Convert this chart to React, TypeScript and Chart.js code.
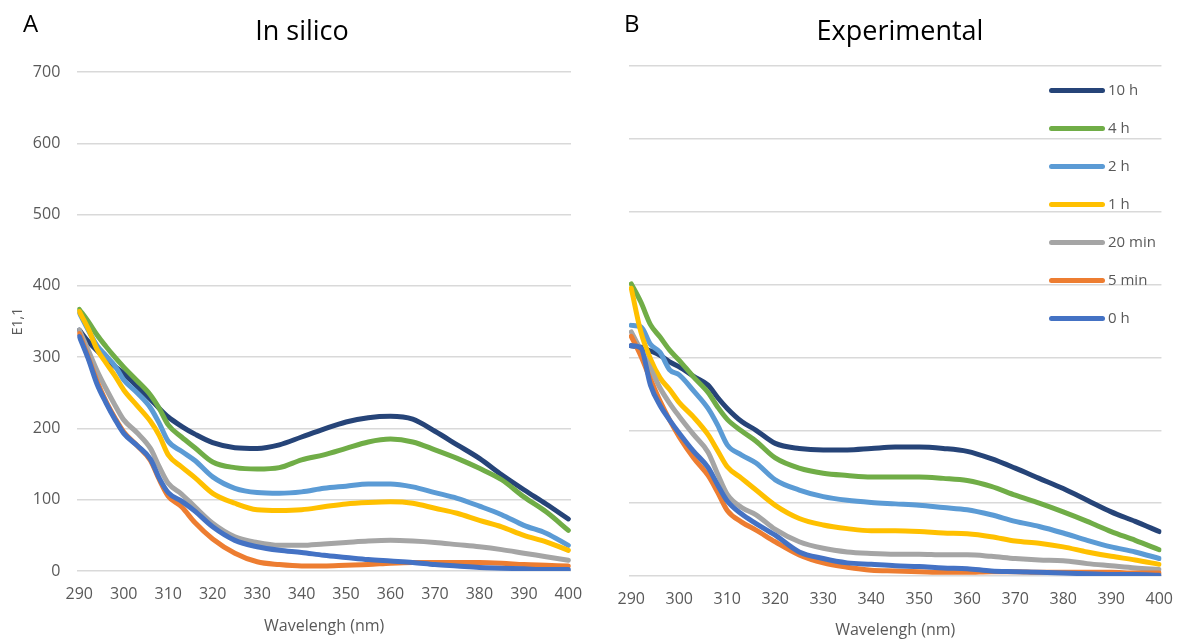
import React, { useEffect, useRef } from "react";
import { Chart, registerables } from "chart.js";

Chart.register(...registerables);

const FONT = "'Open Sans', 'Liberation Sans', sans-serif";

const wavelengths = [290, 292, 294, 296, 298, 300, 303, 306, 308, 310, 313, 316, 320, 325, 330, 335, 340, 345, 350, 355, 360, 365, 370, 375, 380, 385, 390, 395, 400];
const xTicks = [290, 300, 310, 320, 330, 340, 350, 360, 370, 380, 390, 400];
const yTicks = [0, 100, 200, 300, 400, 500, 600, 700];

const seriesLabels = ["10 h", "4 h", "2 h", "1 h", "20 min", "5 min", "0 h"];
const seriesColors = ["#264478", "#70AD47", "#5B9BD5", "#FFC000", "#A5A5A5", "#ED7D31", "#4472C4"];

// Panel A: In silico
const silico10h = [338, 322, 309, 298, 287, 277, 259, 241, 228, 216, 203, 192, 180, 173, 172, 177, 188, 199, 209, 215, 217, 213, 196, 177, 158, 135, 114, 94, 73];
const silico4h = [367, 350, 331, 315, 300, 286, 267, 247, 228, 205, 188, 173, 153, 145, 143, 145, 156, 163, 172, 181, 185, 181, 170, 158, 144, 128, 104, 83, 57];
const silico2h = [362, 338, 316, 302, 288, 268, 250, 229, 207, 182, 168, 155, 132, 116, 110, 109, 111, 116, 119, 122, 122, 118, 110, 102, 91, 79, 64, 53, 36];
const silico1h = [364, 340, 311, 292, 274, 254, 232, 210, 190, 163, 146, 131, 109, 95, 86, 85, 86, 90, 94, 96, 97, 95, 88, 81, 71, 62, 50, 41, 29];
const silico20min = [338, 310, 281, 256, 233, 212, 194, 172, 146, 123, 108, 90, 67, 48, 40, 36, 36, 38, 40, 42, 43, 42, 40, 37, 34, 30, 25, 20, 15];
const silico5min = [333, 300, 266, 238, 215, 195, 176, 155, 128, 105, 90, 68, 45, 25, 13, 9, 7, 7, 8, 9, 11, 12, 12, 12, 12, 11, 9, 8, 7];
const silico0h = [329, 298, 262, 236, 213, 193, 176, 157, 130, 110, 98, 84, 62, 43, 34, 29, 26, 22, 19, 16, 14, 12, 9, 7, 5, 4, 3, 2, 2];

// Panel B: Experimental
const exp10h = [316, 314, 309, 303, 294, 287, 274, 262, 245, 230, 212, 200, 182, 175, 173, 173, 175, 177, 177, 175, 171, 161, 148, 134, 120, 104, 88, 75, 61];
const exp4h = [401, 376, 345, 328, 310, 296, 273, 252, 232, 215, 199, 185, 162, 148, 141, 138, 136, 136, 136, 134, 131, 123, 111, 100, 88, 75, 61, 49, 36];
const exp2h = [344, 342, 318, 307, 283, 276, 254, 230, 207, 180, 166, 155, 132, 118, 109, 104, 101, 99, 97, 94, 91, 84, 75, 68, 59, 49, 40, 33, 24];
const exp1h = [395, 335, 298, 272, 256, 238, 218, 194, 172, 150, 134, 118, 97, 79, 70, 65, 62, 62, 61, 59, 58, 54, 48, 45, 40, 33, 27, 22, 16];
const exp20min = [335, 310, 285, 258, 237, 219, 194, 170, 140, 112, 94, 84, 64, 47, 38, 33, 31, 30, 30, 29, 29, 27, 24, 22, 21, 17, 14, 11, 9];
const exp5min = [329, 302, 270, 240, 214, 191, 162, 138, 115, 90, 74, 63, 47, 29, 18, 12, 8, 7, 6, 5, 5, 6, 6, 5, 5, 5, 5, 4, 4];
const exp0h = [316, 313, 262, 234, 214, 196, 171, 149, 125, 103, 85, 72, 56, 33, 24, 18, 16, 14, 13, 11, 10, 7, 6, 5, 4, 3, 2, 2, 1];

const silicoSeries = [silico10h, silico4h, silico2h, silico1h, silico20min, silico5min, silico0h];
const expSeries = [exp10h, exp4h, exp2h, exp1h, exp20min, exp5min, exp0h];

type PanelProps = {
  series: number[][];
  left: number;
  width: number;
  xMin: number;
  xMax: number;
  yAxisWidth: number;
  xAxisHeight: number;
  padTop: number;
  padRight: number;
  showY: boolean;
  xTitlePad: number;
};

function Panel(p: PanelProps) {
  const ref = useRef<HTMLCanvasElement | null>(null);
  useEffect(() => {
    if (!ref.current) return;
    const n = seriesLabels.length;
    const chart = new Chart(ref.current, {
      type: "line",
      data: {
        datasets: seriesLabels.map((label, i) => ({
          label,
          data: wavelengths.map((x, j) => ({ x, y: p.series[i][j] })),
          borderColor: seriesColors[i],
          backgroundColor: seriesColors[i],
          borderWidth: 5,
          pointRadius: 0,
          cubicInterpolationMode: "monotone" as const,
          borderCapStyle: "round" as const,
          borderJoinStyle: "round" as const,
          order: n - 1 - i,
        })),
      },
      options: {
        responsive: false,
        animation: false,
        devicePixelRatio: 1,
        layout: { padding: { top: p.padTop, right: p.padRight, left: 0, bottom: 0 } },
        plugins: { legend: { display: false }, tooltip: { enabled: false }, title: { display: false } },
        scales: {
          x: {
            type: "linear",
            min: p.xMin,
            max: p.xMax,
            afterBuildTicks: (s: any) => {
              s.ticks = xTicks.map((v) => ({ value: v }));
            },
            afterFit: (s: any) => {
              s.height = p.xAxisHeight;
            },
            grid: { display: false, drawTicks: false },
            border: { display: false },
            ticks: {
              padding: 14,
              color: "#595959",
              font: { family: FONT, size: 16 },
              maxRotation: 0,
              autoSkip: false,
              callback: (v: any) => String(v),
            },
            title: {
              display: true,
              text: "Wavelengh (nm)",
              color: "#595959",
              font: { family: FONT, size: 16 },
              padding: { top: 0, bottom: p.xTitlePad },
            },
          },
          y: {
            type: "linear",
            min: 0,
            max: 700,
            afterBuildTicks: (s: any) => {
              s.ticks = yTicks.map((v) => ({ value: v }));
            },
            afterFit: (s: any) => {
              s.width = p.yAxisWidth;
            },
            grid: { color: "#D9D9D9", lineWidth: 1.5, drawTicks: false },
            border: { display: false },
            ticks: {
              display: p.showY,
              padding: 17,
              color: "#595959",
              font: { family: FONT, size: 16 },
            },
            title: {
              display: p.showY,
              text: "E1,1",
              color: "#595959",
              font: { family: FONT, size: 14 },
              padding: { top: 10, bottom: 0 },
            },
          },
        },
      },
    });
    return () => chart.destroy();
  }, []);
  return (
    <canvas
      ref={ref}
      width={p.width}
      height={640}
      style={{ position: "absolute", left: p.left, top: 0, width: p.width, height: 640 }}
    />
  );
}

const textStyle = (size: number, color: string): React.CSSProperties => ({
  position: "absolute",
  fontFamily: FONT,
  fontSize: size,
  lineHeight: 1,
  color,
  whiteSpace: "nowrap",
});

export default function App() {
  return (
    <div style={{ position: "absolute", left: 0, top: 0, width: 1187, height: 640, background: "#fff", overflow: "hidden" }}>
      <Panel
        series={silicoSeries}
        left={0}
        width={600}
        xMin={289.55}
        xMax={400.6}
        yAxisWidth={77.3}
        xAxisHeight={69}
        padTop={72}
        padRight={29}
        showY={true}
        xTitlePad={4}
      />
      <Panel
        series={expSeries}
        left={600}
        width={587}
        xMin={289.53}
        xMax={400.47}
        yAxisWidth={29}
        xAxisHeight={64}
        padTop={66}
        padRight={18}
        showY={false}
        xTitlePad={0}
      />
      <div style={{ ...textStyle(24, "#000"), left: 23, top: 11 }}>A</div>
      <div style={{ ...textStyle(27, "#000"), left: 302, top: 16, transform: "translateX(-50%)" }}>In silico</div>
      <div style={{ ...textStyle(24, "#000"), left: 624, top: 11 }}>B</div>
      <div style={{ ...textStyle(27, "#000"), left: 900, top: 16, transform: "translateX(-50%)" }}>Experimental</div>
      {seriesLabels.map((label, i) => {
        const cy = 90 + i * 38;
        return (
          <React.Fragment key={label}>
            <div
              style={{
                position: "absolute",
                left: 1049,
                top: cy - 2.5,
                width: 56,
                height: 5,
                borderRadius: 2.5,
                background: seriesColors[i],
              }}
            />
            <div style={{ ...textStyle(15, "#595959"), left: 1108, top: cy - 8 }}>{label}</div>
          </React.Fragment>
        );
      })}
    </div>
  );
}
